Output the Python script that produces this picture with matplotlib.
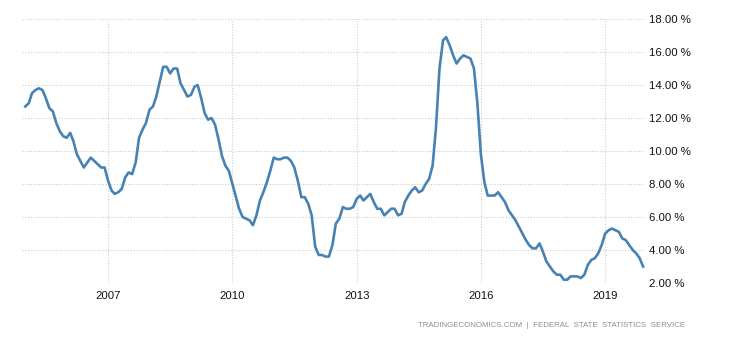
import matplotlib
matplotlib.use("Agg")
import matplotlib.pyplot as plt
import pandas as pd

plt.rcParams['font.family'] = ['Liberation Sans', 'DejaVu Sans']

# Monthly inflation rate, Jan 2005 - Dec 2019 (%)
start_month = "2005-01-01"
values = [
    12.7, 12.9, 13.5, 13.7, 13.8, 13.7, 13.2, 12.6, 12.4, 11.7, 11.2, 10.9,   # 2005
    10.8, 11.1, 10.6, 9.8, 9.4, 9.0, 9.3, 9.6, 9.4, 9.2, 9.0, 9.0,            # 2006
    8.2, 7.6, 7.4, 7.5, 7.7, 8.4, 8.7, 8.6, 9.3, 10.8, 11.3, 11.7,            # 2007
    12.5, 12.7, 13.3, 14.2, 15.1, 15.1, 14.7, 15.0, 15.0, 14.1, 13.7, 13.3,   # 2008
    13.4, 13.9, 14.0, 13.2, 12.3, 11.9, 12.0, 11.6, 10.7, 9.7, 9.1, 8.8,      # 2009
    8.0, 7.2, 6.5, 6.0, 5.9, 5.8, 5.5, 6.1, 7.0, 7.5, 8.1, 8.8,               # 2010
    9.6, 9.5, 9.5, 9.6, 9.6, 9.4, 9.0, 8.2, 7.2, 7.2, 6.8, 6.1,               # 2011
    4.2, 3.7, 3.7, 3.6, 3.6, 4.3, 5.6, 5.9, 6.6, 6.5, 6.5, 6.6,               # 2012
    7.1, 7.3, 7.0, 7.2, 7.4, 6.9, 6.5, 6.5, 6.1, 6.3, 6.5, 6.5,               # 2013
    6.1, 6.2, 6.9, 7.3, 7.6, 7.8, 7.5, 7.6, 8.0, 8.3, 9.1, 11.4,              # 2014
    15.0, 16.7, 16.9, 16.4, 15.8, 15.3, 15.6, 15.8, 15.7, 15.6, 15.0, 12.9,   # 2015
    9.8, 8.1, 7.3, 7.3, 7.3, 7.5, 7.2, 6.9, 6.4, 6.1, 5.8, 5.4,               # 2016
    5.0, 4.6, 4.3, 4.1, 4.1, 4.4, 3.9, 3.3, 3.0, 2.7, 2.5, 2.5,               # 2017
    2.2, 2.2, 2.4, 2.4, 2.4, 2.3, 2.5, 3.1, 3.4, 3.5, 3.8, 4.3,               # 2018
    5.0, 5.2, 5.3, 5.2, 5.1, 4.7, 4.6, 4.3, 4.0, 3.8, 3.5, 3.0,               # 2019
]
tick_years = [2007, 2010, 2013, 2016, 2019]
y_ticks = [2, 4, 6, 8, 10, 12, 14, 16, 18]
source_text = "TRADINGECONOMICS.COM  |  FEDERAL  STATE  STATISTICS  SERVICE"

dates = pd.date_range(start_month, periods=len(values), freq="MS")

fig = plt.figure(figsize=(7.30, 3.40), dpi=100)
ax = fig.add_axes([22/730, 1 - 283/340, (645 - 22)/730, (283 - 19)/340])

ax.plot(dates, values, color="#4682b4", linewidth=1.9, solid_joinstyle="round")

ax.set_ylim(2, 18)
ax.set_xlim(pd.Timestamp("2004-12-03"), pd.Timestamp("2019-12-18"))

ax.set_yticks(y_ticks)
ax.set_yticklabels([f"{v:.2f} %" for v in y_ticks])
ax.yaxis.tick_right()
ax.set_xticks([pd.Timestamp(f"{y}-01-01") for y in tick_years])
ax.set_xticklabels([str(y) for y in tick_years])

ax.tick_params(axis="both", length=0, labelsize=8.2, colors="#111111", pad=3)
ax.tick_params(axis="y", pad=3)
ax.tick_params(axis="x", pad=6)

ax.grid(True, color="#cccccc", linestyle=(0, (1, 1.5)), linewidth=0.8)
ax.set_axisbelow(True)
for s in ax.spines.values():
    s.set_visible(False)

fig.text(685/730, 1 - 325.5/340, source_text, ha="right", va="center",
         fontsize=5.65, color="#8e8e8e")

fig.savefig("out.png", dpi=100)
